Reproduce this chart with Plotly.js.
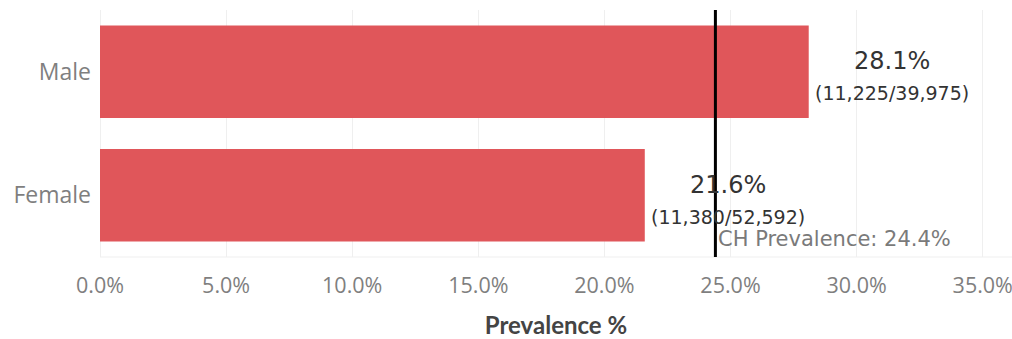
<!DOCTYPE html>
<html>
<head>
<meta charset="utf-8">
<script src="https://cdn.plot.ly/plotly-3.0.1.min.js"></script>
<style>html,body{margin:0;padding:0;background:#fff;}#chart{width:1012px;height:339px;}</style>
</head>
<body>
<div id="chart"></div>
<script>
var categories = ['Male', 'Female'];
var prevalence = [28.1, 21.6];
var cases = ['11,225', '11,380'];
var totals = ['39,975', '52,592'];
var overallPrevalence = 24.4;
var overallLabel = 'CH Prevalence: 24.4%';
var tickValues = [0, 5, 10, 15, 20, 25, 30, 35];
var tickLabels = ['0.0%', '5.0%', '10.0%', '15.0%', '20.0%', '25.0%', '30.0%', '35.0%'];

var trace = {
  type: 'bar',
  orientation: 'h',
  y: categories,
  x: prevalence,
  marker: {color: '#e0565a'},
  width: 0.75,
  hoverinfo: 'none'
};

var annotations = categories.map(function (c, i) {
  return {
    x: prevalence[i], y: c, xref: 'x', yref: 'y',
    xanchor: 'left', yanchor: 'middle', xshift: 4, yshift: -4,
    showarrow: false, align: 'center',
    text: prevalence[i].toFixed(1) + '%<br><span style="font-size:19px">(' + cases[i] + '/' + totals[i] + ')</span>',
    font: {family: 'DejaVu Sans, sans-serif', size: 24, color: '#333333'}
  };
});
annotations.push({
  x: overallPrevalence, y: 0, xref: 'x', yref: 'paper',
  xanchor: 'left', yanchor: 'bottom', xshift: 1, yshift: 4,
  showarrow: false, text: overallLabel,
  font: {family: 'DejaVu Sans, sans-serif', size: 21, color: '#7a7a7a'}
});

var layout = {
  width: 1012, height: 339,
  margin: {l: 100, r: 0, t: 10, b: 82},
  paper_bgcolor: '#ffffff', plot_bgcolor: '#ffffff',
  showlegend: false,
  xaxis: {
    range: [0, 36.16],
    tickvals: tickValues, ticktext: tickLabels,
    showgrid: true, gridcolor: '#efefef', gridwidth: 1,
    zeroline: true, zerolinecolor: '#efefef',
    showline: false,
    ticks: '', ticklen: 0,
    ticklabelstandoff: 13,
    ticklabeloverflow: 'allow',
    tickfont: {family: 'Open Sans, sans-serif', size: 21.5, color: '#7f7f7f'},
    title: {text: 'Prevalence %', standoff: 21, font: {family: 'Lato, sans-serif', size: 24, color: '#444444', weight: 700}}
  },
  yaxis: {
    autorange: 'reversed',
    showgrid: false, zeroline: false,
    showline: false, ticks: '',
    ticklabelstandoff: 8,
    tickfont: {family: 'Open Sans, sans-serif', size: 23, color: '#7f7f7f'}
  },
  shapes: [
    {type: 'line', xref: 'paper', yref: 'paper', x0: 0, x1: 1, y0: 0, y1: 0, line: {color: '#efefef', width: 1}},
    {type: 'line', xref: 'x', yref: 'paper', x0: overallPrevalence, x1: overallPrevalence, y0: 0, y1: 1, line: {color: '#000000', width: 3}}
  ],
  annotations: annotations
};

Plotly.newPlot('chart', [trace], layout, {displayModeBar: false, staticPlot: true});
</script>
</body>
</html>
